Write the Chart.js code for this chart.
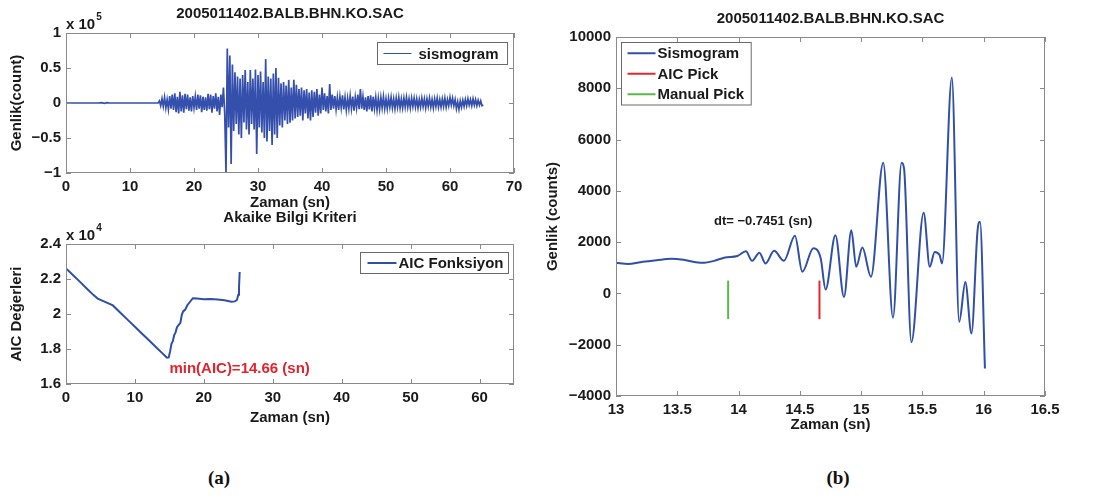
<!DOCTYPE html>
<html lang="tr">
<head>
<meta charset="UTF-8">
<title>2005011402.BALB.BHN.KO.SAC - AIC</title>
<script src="https://cdn.jsdelivr.net/npm/chart.js"></script>
<style>
  html, body { margin: 0; padding: 0; background: #fff; overflow: hidden; }
  #fig { position: relative; width: 1096px; height: 496px; }
  .panel { position: absolute; }
  .panel canvas { display: block; }
  .cap { position: absolute; font: bold 19px 'Liberation Serif', 'Times New Roman', serif; color: #111; transform: translateX(-50%); }
</style>
</head>
<body>
<div id="fig">
  <div class="panel" style="left:0;top:0"><canvas id="sisChart" width="580" height="212"></canvas></div>
  <div class="panel" style="left:0;top:208px"><canvas id="aicChart" width="580" height="222"></canvas></div>
  <div class="panel" style="left:540px;top:0"><canvas id="pickChart" width="556" height="440"></canvas></div>
  <div class="cap" style="left:219px;top:467px">(a)</div>
  <div class="cap" style="left:838px;top:467px">(b)</div>
</div>
<script>
// --- full record (x1000 counts) ---
// quiet part before the arrival
const quietT = [0, 5.0, 5.6, 6.0, 6.4, 6.8, 14.2];
const quietV = [0, 0, 0.6, -0.5, 0.4, 0, 0];
// active part, sampled every 0.2 s from 14.4 s
const activeStart = 14.4;
const activeStep = 0.2;
const activeV = [
  0, 3, -4, 6, -5, 8, -7, 5, -9, 10,
  -8, 12, -10, 14, -13, 9, -15, 16, -12, 11,
  -14, 13, -9, 12, -11, 8, -12, 10, -7, 9,
  -10, 12, -8, 11, -13, 9, -10, 8, -11, 13,
  -9, 12, -14, 10, -8, 14, -12, 9, -17, 12,
  -6, 22, -15, -100, 78, -35, 68, -87, 55, -40,
  44, -30, 38, -45, 35, -50, 40, -28, 47, -38,
  30, -45, 47, -30, 35, -38, 48, -73, 40, -35,
  45, -42, 30, -50, 63, -55, 38, -40, 35, -60,
  42, -45, 50, -50, 36, -32, 28, -35, 30, -25,
  25, -30, 33, -28, 22, -25, 33, -22, 26, -20,
  20, -18, 22, -25, 18, -15, 20, -22, 15, -25,
  18, -20, 16, -14, 20, -18, 12, -15, 22, -10,
  14, -12, 10, -15, 27, -10, 12, -8, 10, -9,
  8, -10, 9, -7, 11, -9, 8, -10, 7, -8,
  10, -8, 9, -11, 8, -7, 12, -9, 20, -8,
  9, -10, 8, -12, 10, -9, 11, -12, 9, -8,
  8, -10, 7, -9, 8, -7, 9, -8, 6, -8,
  7, -6, 8, -7, 6, -8, 7, -6, 8, -7,
  6, -7, 7, -6, 8, -6, 6, -7, 7, -5,
  7, -6, 6, -7, 5, -6, 7, -5, 6, -7,
  6, -5, 7, -6, 5, -7, 6, -5, 7, -6,
  5, -6, 6, -5, 7, -6, 5, -4, 8, -3,
  7, -4, 5, -8, 2, -9, 3, -6, 4, -5,
  5, -4, 6, -3, 5, -4, 6, -3, 5, -4,
  4, -3, 3, -4, -3
];

// --- AIC function ---
const aicT = [0, 1, 2, 3, 4, 4.6, 5.5, 6.8, 8, 9, 10, 11, 12, 13, 14, 14.5, 14.66, 14.9, 15.1, 15.3,
  15.5, 15.7, 15.9, 16.1, 16.3, 16.6, 16.8, 17.0, 17.3, 17.6, 18.0, 18.4, 19, 20, 21, 22, 23, 24,
  24.5, 24.8, 25.0, 25.1, 25.2];
const aicV = [22600, 22230, 21850, 21460, 21080, 20880, 20720, 20490, 20030, 19650, 19270, 18890,
  18510, 18130, 17750, 17560, 17500, 17520, 17850, 18300, 18450, 18800, 18950, 19250, 19350, 19500,
  19950, 20150, 20250, 20500, 20700, 20900, 20880, 20840, 20850, 20830, 20780, 20700, 20720, 20800,
  21100, 21500, 22400];

// --- pick window (counts) ---
const winT = [13.00, 13.10, 13.20, 13.33, 13.45, 13.55, 13.65, 13.72, 13.80, 13.89, 13.99, 14.06,
  14.11, 14.17, 14.22, 14.29, 14.37, 14.46, 14.52, 14.61, 14.67, 14.71, 14.79, 14.86, 14.92, 14.96,
  15.01, 15.08, 15.18, 15.26, 15.33, 15.35, 15.41, 15.51, 15.56, 15.60, 15.64, 15.66, 15.74, 15.80,
  15.85, 15.90, 15.95, 15.97, 16.01];
const winV = [1195, 1145, 1220, 1290, 1350, 1310, 1220, 1195, 1270, 1400, 1460, 1640, 1270, 1590,
  1170, 1660, 1270, 2250, 845, 1760, 1370, 150, 2270, -140, 2460, 1040, 1790, 650, 5100, -950, 5100,
  4880, -1900, 3150, 1040, 1620, 1500, 1170, 8420, -1110, 450, -1560, 2470, 2800, -2930];

const aicPick = 14.66;
const dtPick = -0.7451;
const manualPick = aicPick + dtPick;
const pickSpan = [-1000, 500];

const FONT = "'Liberation Sans', Arial, Helvetica, sans-serif";
Chart.defaults.font.family = FONT;
Chart.defaults.font.size = 15;
Chart.defaults.font.weight = 'bold';
Chart.defaults.color = '#1a1a1a';
Chart.defaults.animation = false;
Chart.defaults.plugins.legend.display = false;
Chart.defaults.plugins.tooltip.enabled = false;
Chart.defaults.elements.point.radius = 0;

const minus = s => String(s).replace('-', '\u2212');
const num = v => minus(+v.toFixed(2));

// matlab-like frame: box, inward ticks, title, exponent, legend, text notes
const matlabAxes = {
  id: 'matlabAxes',
  afterDraw(chart, args, o) {
    const { ctx, chartArea: a, scales } = chart;
    ctx.save();
    ctx.strokeStyle = '#8a8a8a';
    ctx.lineWidth = 1;
    ctx.strokeRect(a.left + 0.5, a.top + 0.5, a.right - a.left - 1, a.bottom - a.top - 1);
    ctx.beginPath();
    scales.x.ticks.forEach(t => {
      const px = Math.round(scales.x.getPixelForValue(t.value)) + 0.5;
      ctx.moveTo(px, a.bottom); ctx.lineTo(px, a.bottom - 5);
      ctx.moveTo(px, a.top); ctx.lineTo(px, a.top + 5);
    });
    scales.y.ticks.forEach(t => {
      const py = Math.round(scales.y.getPixelForValue(t.value)) + 0.5;
      ctx.moveTo(a.left, py); ctx.lineTo(a.left + 5, py);
      ctx.moveTo(a.right, py); ctx.lineTo(a.right - 5, py);
    });
    ctx.stroke();

    ctx.fillStyle = '#1a1a1a';
    ctx.font = 'bold 15px ' + FONT;
    ctx.textAlign = 'center';
    ctx.textBaseline = 'alphabetic';
    ctx.fillText(o.title, (a.left + a.right) / 2, a.top - o.titleGap);

    if (o.exponent) {
      ctx.textAlign = 'left';
      ctx.fillText('x 10', a.left, a.top - 4);
      const w = ctx.measureText('x 10').width;
      ctx.font = 'bold 10px ' + FONT;
      ctx.fillText(o.exponent, a.left + w + 1, a.top - 13);
    }

    (o.notes || []).forEach(n => {
      ctx.font = 'bold ' + n.size + 'px ' + FONT;
      ctx.fillStyle = n.color;
      ctx.textAlign = n.align;
      ctx.textBaseline = 'middle';
      ctx.fillText(n.text, scales.x.getPixelForValue(n.x), scales.y.getPixelForValue(n.y));
    });

    // legend box
    const items = chart.data.datasets.filter(d => d.label);
    ctx.font = 'bold 15px ' + FONT;
    const textW = Math.max(...items.map(d => ctx.measureText(d.label).width));
    const lg = o.legend;
    const w = lg.padL + lg.line + lg.gap + textW + lg.padR;
    const h = items.length * lg.row + 1;
    const x0 = Math.round(lg.corner === 'nw' ? a.left + lg.dx : a.right - lg.dx - w) + 0.5;
    const y0 = Math.round(a.top + lg.dy) + 0.5;
    ctx.fillStyle = '#fff';
    ctx.fillRect(x0, y0, w, h);
    ctx.strokeStyle = '#6a6a6a';
    ctx.strokeRect(x0, y0, w, h);
    items.forEach((d, i) => {
      const cy = y0 + lg.row * i + lg.row / 2 + 0.5;
      ctx.strokeStyle = d.borderColor;
      ctx.lineWidth = lg.lineWidth;
      ctx.beginPath();
      ctx.moveTo(x0 + lg.padL, cy);
      ctx.lineTo(x0 + lg.padL + lg.line, cy);
      ctx.stroke();
      ctx.fillStyle = '#1a1a1a';
      ctx.textAlign = 'left';
      ctx.textBaseline = 'middle';
      ctx.fillText(d.label, x0 + lg.padL + lg.line + lg.gap, cy + 1);
    });
    ctx.restore();
  }
};

function axisX(min, max, step, height, tickPad, titlePad) {
  return {
    type: 'linear', min, max,
    grid: { display: false, drawTicks: false },
    border: { display: false },
    ticks: { stepSize: step, autoSkip: false, maxRotation: 0, padding: tickPad, callback: num },
    title: { display: true, text: 'Zaman (sn)', padding: { top: 0, bottom: titlePad } },
    afterFit: s => { s.height = height; }
  };
}

function axisY(min, max, step, width, title, titlePad, labelFn) {
  return {
    type: 'linear', min, max,
    grid: { display: false, drawTicks: false },
    border: { display: false },
    ticks: { stepSize: step, autoSkip: false, padding: 5, callback: labelFn },
    title: { display: true, text: title, padding: { top: titlePad, bottom: 0 } },
    afterFit: s => { s.width = width; }
  };
}

// (a) top: full seismogram
const sisPoints = quietT.map((t, i) => ({ x: t, y: quietV[i] * 1000 }))
  .concat(activeV.map((v, i) => ({ x: activeStart + i * activeStep, y: v * 1000 })));

new Chart(document.getElementById('sisChart'), {
  type: 'line',
  data: { datasets: [{ label: 'sismogram', data: sisPoints, borderColor: '#3550ac', borderWidth: 1.7, tension: 0 }] },
  options: {
    responsive: false,
    devicePixelRatio: 1,
    layout: { padding: { top: 33, right: 66, left: 0, bottom: 0 } },
    scales: {
      x: axisX(0, 70, 10, 39, 5, 0),
      y: axisY(-100000, 100000, 50000, 66, 'Genlik(count)', 8, v => num(v / 100000))
    },
    plugins: {
      matlabAxes: {
        title: '2005011402.BALB.BHN.KO.SAC', titleGap: 15, exponent: '5',
        legend: { corner: 'ne', dx: 7, dy: 9, padL: 6, line: 28, gap: 7, padR: 9, row: 21, lineWidth: 1 }
      }
    }
  },
  plugins: [matlabAxes]
});

// (a) bottom: AIC function
new Chart(document.getElementById('aicChart'), {
  type: 'line',
  data: { datasets: [{ label: 'AIC Fonksiyon', data: aicT.map((t, i) => ({ x: t, y: aicV[i] })), borderColor: '#2f4ea6', borderWidth: 2, tension: 0 }] },
  options: {
    responsive: false,
    devicePixelRatio: 1,
    layout: { padding: { top: 36, right: 66, left: 0, bottom: 0 } },
    scales: {
      x: Object.assign(axisX(0, 65, 10, 46, 5, 3), {
        afterBuildTicks: s => { s.ticks = s.ticks.filter(t => t.value % 10 === 0); }
      }),
      y: axisY(16000, 24000, 2000, 66, 'AIC Değerleri', 8, v => num(v / 10000))
    },
    plugins: {
      matlabAxes: {
        title: 'Akaike Bilgi Kriteri', titleGap: 22, exponent: '4',
        legend: { corner: 'ne', dx: 6, dy: 8, padL: 7, line: 29, gap: 2, padR: 5, row: 20, lineWidth: 2 },
        notes: [{ x: 15.0, y: 16850, text: 'min(AIC)=' + aicPick.toFixed(2) + ' (sn)', color: '#e2232b', size: 15, align: 'left' }]
      }
    }
  },
  plugins: [matlabAxes]
});

// (b) pick window with AIC and manual picks
new Chart(document.getElementById('pickChart'), {
  type: 'line',
  data: {
    datasets: [
      { label: 'Sismogram', data: winT.map((t, i) => ({ x: t, y: winV[i] })), borderColor: '#3050a8', borderWidth: 2, cubicInterpolationMode: 'monotone' },
      { label: 'AIC Pick', data: pickSpan.map(v => ({ x: aicPick, y: v })), borderColor: '#e8262e', borderWidth: 2 },
      { label: 'Manual Pick', data: pickSpan.map(v => ({ x: manualPick, y: v })), borderColor: '#5cb84a', borderWidth: 2 }
    ]
  },
  options: {
    responsive: false,
    devicePixelRatio: 1,
    layout: { padding: { top: 37, right: 51, left: 0, bottom: 0 } },
    scales: {
      x: axisX(13, 16.5, 0.5, 44, 5, 6),
      y: axisY(-4000, 10000, 2000, 76, 'Genlik (counts)', 4, v => num(v))
    },
    plugins: {
      matlabAxes: {
        title: '2005011402.BALB.BHN.KO.SAC', titleGap: 14,
        legend: { corner: 'nw', dx: 5, dy: 5, padL: 6, line: 28, gap: 2, padR: 7, row: 20.5, lineWidth: 2 },
        notes: [{ x: 14.2, y: 2800, text: 'dt= ' + minus(dtPick) + ' (sn)', color: '#1a1a1a', size: 13, align: 'center' }]
      }
    }
  },
  plugins: [matlabAxes]
});
</script>
</body>
</html>
